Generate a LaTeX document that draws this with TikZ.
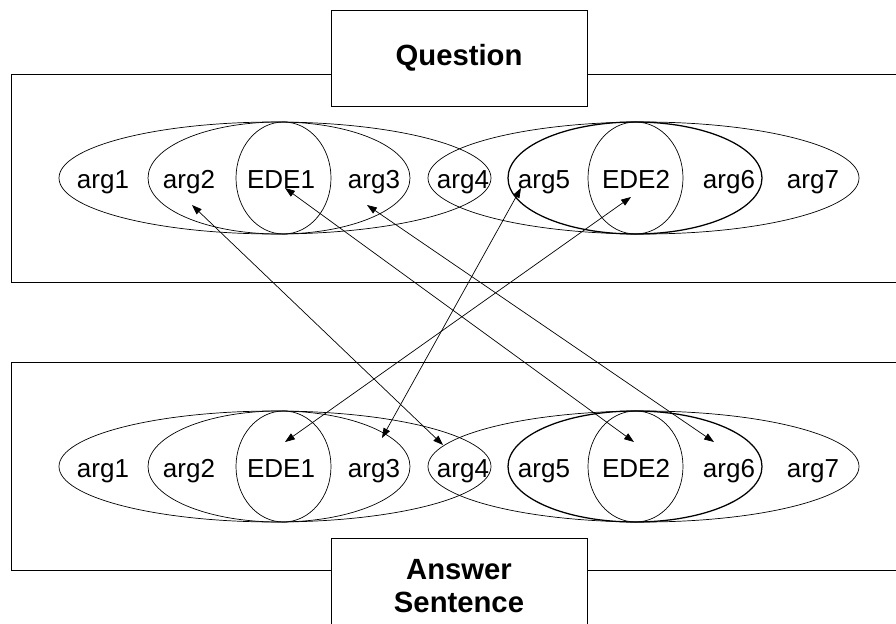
\documentclass[tikz,border=0pt]{standalone}
\usepackage{fontspec}
\setmainfont{Liberation Sans}
\usetikzlibrary{arrows.meta}

\begin{document}
\begin{tikzpicture}[x=0.025cm, y=-0.025cm,
  word/.style={inner sep=0pt, anchor=base, font=\fontsize{18.5}{22}\selectfont},
  titlebox/.style={rectangle, draw=black, fill=white, line width=0.6pt, minimum width=6.4cm, minimum height=2.4cm, align=center, font=\fontsize{20.8}{23.5}\selectfont\bfseries},
  group/.style={draw=black, line width=0.5pt},
  boldgroup/.style={draw=black, line width=0.9pt},
  link/.style={{Triangle[length=7pt, width=5pt]}-{Triangle[length=7pt, width=5pt]}, line width=0.5pt}]

\useasboundingbox (0,0) rectangle (896,624);
\clip (0,0) rectangle (896,624);
\draw[draw=none, fill=white] (0,0) rectangle (896,624);

% frames
\draw[group] (11,74) rectangle (910,282);
\draw[group] (11,362) rectangle (910,570);

% titles
\node[titlebox] (Q) at (459,58) {Question};
\node[titlebox] (A) at (459,586) {Answer\\Sentence};

% question groups
\draw[group] (275,178) ellipse [x radius=216, y radius=56];
\draw[group] (279,178) ellipse [x radius=131, y radius=56];
\draw[group] (283.5,178) ellipse [x radius=47.5, y radius=56];
\draw[group] (643.5,178) ellipse [x radius=215.5, y radius=56];
\draw[boldgroup] (635,178) ellipse [x radius=127, y radius=56];
\draw[group] (635.5,178) ellipse [x radius=47.5, y radius=56];

% answer groups
\draw[group] (275,466.5) ellipse [x radius=216, y radius=55.5];
\draw[group] (279,466.5) ellipse [x radius=131, y radius=55.5];
\draw[group] (283.5,466.5) ellipse [x radius=47.5, y radius=55.5];
\draw[group] (643.5,466.5) ellipse [x radius=215.5, y radius=55.5];
\draw[boldgroup] (635,466.5) ellipse [x radius=127, y radius=55.5];
\draw[group] (635.5,466.5) ellipse [x radius=47.5, y radius=55.5];

% question words
\node[word] (q1) at (103,188) {arg1};
\node[word] (q2) at (189,188) {arg2};
\node[word] (qE1) at (281,188) {EDE1};
\node[word] (q3) at (374,188) {arg3};
\node[word] (q4) at (463,188) {arg4};
\node[word] (q5) at (544,188) {arg5};
\node[word] (qE2) at (636,188) {EDE2};
\node[word] (q6) at (729,188) {arg6};
\node[word] (q7) at (813,188) {arg7};

% answer words
\node[word] (a1) at (103,477) {arg1};
\node[word] (a2) at (189,477) {arg2};
\node[word] (aE1) at (281,477) {EDE1};
\node[word] (a3) at (374,477) {arg3};
\node[word] (a4) at (463,477) {arg4};
\node[word] (a5) at (544,477) {arg5};
\node[word] (aE2) at (636,477) {EDE2};
\node[word] (a6) at (729,477) {arg6};
\node[word] (a7) at (813,477) {arg7};

% alignments
\draw[link] ([shift={(3,17)}]q2.base) -- ([shift={(-20,-32)}]a4.base);
\draw[link] ([shift={(4,0)}]qE1.base) -- ([shift={(-2,-35)}]aE2.base);
\draw[link] ([shift={(-7,17)}]q3.base) -- ([shift={(-15,-35)}]a6.base);
\draw[link] ([shift={(-23,0)}]q5.base) -- ([shift={(8,-39)}]a3.base);
\draw[link] ([shift={(-5,9)}]qE2.base) -- ([shift={(4,-35)}]aE1.base);

\end{tikzpicture}
\end{document}
